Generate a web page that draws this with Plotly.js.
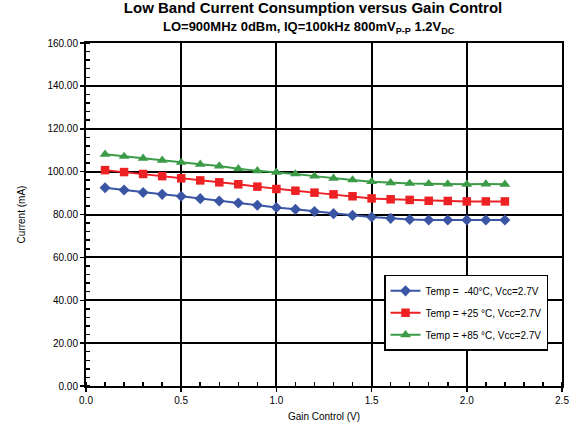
<!DOCTYPE html>
<html>
<head>
<meta charset="utf-8">
<script src="https://cdn.plot.ly/plotly-3.0.1.min.js"></script>
<style>html,body{margin:0;padding:0;background:#fff;}#chart{width:579px;height:427px;}</style>
</head>
<body>
<div id="chart"></div>
<script>
const gainControl = [0.1,0.2,0.3,0.4,0.5,0.6,0.7,0.8,0.9,1.0,1.1,1.2,1.3,1.4,1.5,1.6,1.7,1.8,1.9,2.0,2.1,2.2];
const currentM40 = [92.5,91.4,90.3,89.4,88.5,87.4,86.3,85.4,84.3,83.3,82.4,81.4,80.4,79.6,78.8,78.2,77.7,77.4,77.4,77.4,77.4,77.4];
const currentP25 = [100.7,99.8,98.9,97.9,96.9,95.9,95.0,94.1,93.0,91.9,91.1,90.2,89.4,88.5,87.5,87.1,86.8,86.4,86.3,86.1,86.1,86.1];
const currentP85 = [108.1,107.1,106.2,105.3,104.3,103.4,102.6,101.3,100.4,99.7,98.9,97.9,96.9,96.1,95.3,94.8,94.5,94.4,94.2,94.1,94.2,94.1];
const seriesNames = ["Temp =  -40°C, Vcc=2.7V","Temp = +25 °C, Vcc=2.7V","Temp = +85 °C, Vcc=2.7V"];
const xTickVals = [0,0.5,1.0,1.5,2.0,2.5];
const yTickVals = [0,20,40,60,80,100,120,140,160];

const font = "Liberation Sans, Arial, sans-serif";
const traces = [
  {x: gainControl, y: currentM40, name: seriesNames[0], mode: "lines+markers", legendgroup: "a",
   line: {color: "#3a55a4", width: 2}, marker: {symbol: "diamond", size: 8.5, color: "#3a55a4"}},
  {x: gainControl, y: currentP25, name: seriesNames[1], mode: "lines+markers", legendgroup: "b",
   line: {color: "#ed2024", width: 2}, marker: {symbol: "square", size: 8.5, color: "#ed2024"}},
  {x: gainControl, y: currentP85, name: seriesNames[2], mode: "lines+markers", legendgroup: "c",
   line: {color: "#3b9b47", width: 2}, marker: {symbol: "triangle-up", size: 9.5, color: "#3b9b47"}}
];

const layout = {
  width: 579, height: 427,
  margin: {l: 86, r: 17, t: 43, b: 41},
  paper_bgcolor: "#fff", plot_bgcolor: "#fff",
  font: {family: font, color: "#000", size: 10},
  title: {text: "<b>Low Band Current Consumption versus Gain Control</b>",
          font: {family: font, size: 15, color: "#000"},
          x: 0.477, xref: "paper", xanchor: "center", y: 0.981, yref: "container", yanchor: "middle"},
  annotations: [{
    text: "<b>LO=900MHz 0dBm, IQ=100kHz 800mV<sub>P-P</sub> 1.2V<sub>DC</sub></b>",
    xref: "paper", yref: "paper", x: 0.469, y: 1.0, yshift: 16, xanchor: "center", yanchor: "middle",
    showarrow: false, font: {family: font, size: 13, color: "#000"}
  }],
  xaxis: {
    range: [0, 2.5], tickvals: xTickVals, tickformat: ".1f",
    showgrid: true, gridcolor: "#000", gridwidth: 2,
    showline: true, linecolor: "#000", linewidth: 2, mirror: true,
    ticks: "outside", ticklen: 4, tickwidth: 1.5, tickcolor: "#000",
    zeroline: false,
    minor: {dtick: 0.1, ticks: "inside", ticklen: 4, tickwidth: 1.5, tickcolor: "#000", showgrid: false},
    tickfont: {size: 10, family: font},
    title: {text: "Gain Control (V)", font: {size: 10, family: font}, standoff: 8}
  },
  yaxis: {
    range: [0, 160], tickvals: yTickVals, tickformat: ".2f",
    showgrid: true, gridcolor: "#000", gridwidth: 2,
    showline: true, linecolor: "#000", linewidth: 2, mirror: true,
    ticks: "outside", ticklen: 4, tickwidth: 1.5, tickcolor: "#000",
    zeroline: false,
    minor: {dtick: 4, ticks: "inside", ticklen: 4, tickwidth: 1.5, tickcolor: "#000", showgrid: false},
    tickfont: {size: 10, family: font},
    title: {text: "Current (mA)", font: {size: 10, family: font}, standoff: 20}
  },
  legend: {
    x: 0.9706, xanchor: "right", y: 0.324, yanchor: "top",
    bgcolor: "#fff", bordercolor: "#000", borderwidth: 1.5,
    font: {size: 10, family: font}, tracegroupgap: 3, itemwidth: 30
  },
  showlegend: true
};

Plotly.newPlot("chart", traces, layout, {displayModeBar: false, staticPlot: true});
</script>
</body>
</html>
